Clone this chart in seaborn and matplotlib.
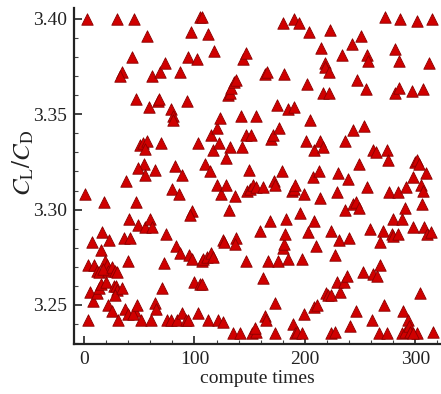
import numpy as np
import pandas as pd
import matplotlib
matplotlib.use('Agg')
import matplotlib.pyplot as plt
import seaborn as sns
from matplotlib.ticker import MultipleLocator

# compute index (x) and lift/drag ratio (y)
compute_times = [
    3, 1, 4, 30, 45, 34, 33, 43, 38, 47, 18, 7, 16, 4, 9, 12, 14, 5, 8, 12,
    14, 15, 15, 19, 21, 22, 17, 20, 23, 25, 28, 30, 27, 29, 30, 28, 34, 22,
    25, 31, 37, 40, 36, 42, 41, 40, 46, 44, 47, 48,
    52, 61, 57, 59, 51, 53, 57, 55, 54, 49, 55, 49, 55, 60, 62, 62, 64, 64,
    65, 67, 68, 69, 73, 70, 72, 71, 74, 75, 79, 79, 81, 81, 80, 82, 83, 86,
    87, 87, 84, 89, 92, 93, 94, 89, 97, 98, 96, 95, 98, 94, 102, 100,
    103, 105, 107, 103, 105, 107, 107, 108, 112, 110, 114, 111, 115, 117,
    115, 117, 118, 112, 120, 123, 122, 120, 124, 121, 126, 126, 127, 129,
    130, 132, 129, 131, 132, 133, 136, 138, 137, 138, 137, 135, 141, 142,
    143, 144, 147, 147, 147, 149,
    151, 148, 150, 153, 156, 152, 156, 155, 156, 159, 162, 162, 164, 165,
    164, 166, 168, 167, 169, 171, 172, 173, 173, 173, 175, 177, 176, 180,
    181, 179, 181, 180, 182, 183, 185, 185, 188, 190, 191, 190, 189, 191,
    193, 197, 190, 195, 196, 197, 199,
    199, 202, 201, 203, 205, 204, 207, 208, 208, 210, 208, 211, 214, 215,
    213, 214, 216, 218, 218, 216, 222, 223, 222, 219, 221, 224, 224, 224,
    227, 227, 230, 229, 231, 229, 232, 235, 234, 236, 236, 238, 239, 240,
    241, 243, 244, 244, 246, 249, 246, 247, 249,
    251, 254, 253, 255, 256, 256, 257, 259, 261, 262, 264, 262, 265, 268,
    268, 267, 271, 272, 273, 274, 274, 275, 276, 279, 280, 280, 282, 282,
    284, 284, 285, 285, 286, 288, 288, 291, 289, 291, 292, 293, 294, 295,
    297, 298, 298,
    300, 302, 303, 302, 302, 298, 304, 305, 307, 306, 307, 308, 310, 311,
    314, 312, 315, 316,
]
cl_cd = [
    3.400, 3.308, 3.242, 3.400, 3.400, 3.372, 3.370, 3.380, 3.315, 3.358,
    3.304, 3.283, 3.288, 3.271, 3.271, 3.268, 3.267, 3.257, 3.252, 3.256,
    3.259, 3.261, 3.279, 3.273, 3.271, 3.268, 3.269, 3.262, 3.284, 3.270,
    3.268, 3.267, 3.260, 3.260, 3.258, 3.255, 3.259, 3.250, 3.247, 3.242,
    3.248, 3.245, 3.285, 3.285, 3.295, 3.273, 3.247, 3.245, 3.304, 3.250,
    3.242, 3.242, 3.391, 3.354, 3.334, 3.335, 3.336, 3.332, 3.324, 3.322,
    3.318, 3.292, 3.291, 3.295, 3.291, 3.370, 3.321, 3.251, 3.248, 3.357,
    3.358, 3.372, 3.377, 3.335, 3.272, 3.259, 3.287, 3.242, 3.242, 3.353,
    3.349, 3.347, 3.311, 3.323, 3.281, 3.308, 3.277, 3.372, 3.242, 3.246,
    3.242, 3.357, 3.380, 3.318, 3.393, 3.299, 3.297, 3.276, 3.274, 3.242,
    3.379, 3.262,
    3.246, 3.401, 3.401, 3.335, 3.261, 3.261, 3.273, 3.274, 3.392, 3.324,
    3.320, 3.275, 3.277, 3.275, 3.339, 3.331, 3.383, 3.242, 3.343, 3.348,
    3.335, 3.313, 3.308, 3.242, 3.241, 3.284, 3.283, 3.313, 3.360, 3.333,
    3.327, 3.300, 3.361, 3.364, 3.367, 3.368, 3.307, 3.285, 3.282, 3.235,
    3.235, 3.349, 3.333, 3.379, 3.382, 3.339, 3.273, 3.321,
    3.339, 3.310, 3.311, 3.313, 3.312, 3.235, 3.236, 3.238, 3.349, 3.289,
    3.312, 3.264, 3.244, 3.242, 3.371, 3.372, 3.294, 3.273, 3.337, 3.339,
    3.315, 3.313, 3.235, 3.251, 3.355, 3.343, 3.273, 3.280, 3.282, 3.320,
    3.371, 3.398, 3.287, 3.295, 3.353, 3.274, 3.310, 3.311, 3.313, 3.354,
    3.240, 3.235, 3.236, 3.235, 3.400, 3.398, 3.298, 3.274, 3.308,
    3.245, 3.366, 3.336, 3.288, 3.347, 3.393, 3.317, 3.294, 3.331, 3.281,
    3.249, 3.250, 3.336, 3.385, 3.320, 3.306, 3.333, 3.377, 3.375, 3.361,
    3.361, 3.394, 3.372, 3.256, 3.255, 3.255, 3.289, 3.235, 3.236, 3.276,
    3.319, 3.309, 3.284, 3.262, 3.257, 3.262, 3.381, 3.336, 3.300, 3.265,
    3.316, 3.285, 3.239, 3.387, 3.342, 3.303, 3.304, 3.301, 3.247, 3.368,
    3.324,
    3.391, 3.344, 3.267, 3.363, 3.312, 3.381, 3.378, 3.290, 3.242, 3.331,
    3.330, 3.266, 3.265, 3.283, 3.271, 3.235, 3.289, 3.250, 3.401, 3.235,
    3.331, 3.326, 3.309, 3.287, 3.286, 3.295, 3.384, 3.361, 3.309, 3.287,
    3.364, 3.378, 3.400, 3.295, 3.235, 3.236, 3.247, 3.301, 3.312, 3.242,
    3.239, 3.236, 3.362, 3.317, 3.291,
    3.325, 3.326, 3.324, 3.399, 3.235, 3.235, 3.256, 3.313, 3.310, 3.303,
    3.363, 3.291, 3.319, 3.287, 3.288, 3.377, 3.400, 3.236,
]

x_ticks = [0, 100, 200, 300]
y_ticks = [3.25, 3.30, 3.35, 3.40]

df = pd.DataFrame({'compute times': compute_times, 'CL/CD': cl_cd})

sns.set_theme(style='white')
plt.rcParams['font.family'] = ['Liberation Serif', 'DejaVu Serif']
plt.rcParams['mathtext.fontset'] = 'stix'

fig = plt.figure(figsize=(4.41, 3.94), dpi=100)
ax = fig.add_axes([0.168, 0.126, 0.830, 0.854])

sns.scatterplot(data=df, x='compute times', y='CL/CD', marker='^', s=68,
                color='#d00000', edgecolor='#8a0000', linewidth=0.6, ax=ax,
                clip_on=False, zorder=3)

ax.set_xlim(-9, 322.5)
ax.set_ylim(3.2293, 3.4058)
ax.set_xticks(x_ticks)
ax.set_yticks(y_ticks)
ax.set_yticklabels([f'{v:.2f}' for v in y_ticks])
ax.xaxis.set_minor_locator(MultipleLocator(20))
ax.yaxis.set_minor_locator(MultipleLocator(0.01))

for side in ['top', 'right']:
    ax.spines[side].set_visible(False)
for side in ['left', 'bottom']:
    ax.spines[side].set_color('#222222')
    ax.spines[side].set_linewidth(1.6)

ax.tick_params(which='major', direction='in', length=6, width=1.2,
               labelsize=14, colors='#222222', left=True, bottom=True, pad=5)
ax.tick_params(which='minor', direction='in', length=3, width=0.8,
               colors='#444444', left=True, bottom=True)
ax.tick_params(axis='both', labelcolor='#222222')

ax.set_xlabel('compute times', fontsize=14, color='#222222', labelpad=1)
ax.set_ylabel(r'$C_\mathrm{L}/C_\mathrm{D}$', fontsize=18, color='#222222')
ax.yaxis.set_label_coords(-0.105, 0.54)
ax.grid(False)

fig.savefig('out.png', dpi=100)
